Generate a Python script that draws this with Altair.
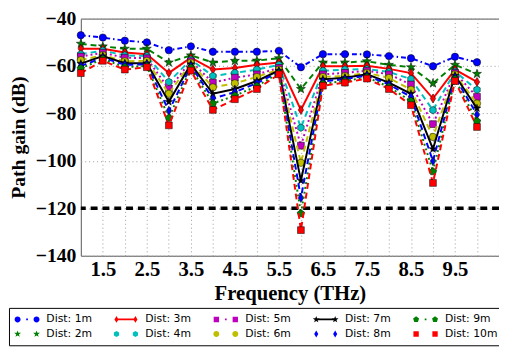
import math
import altair as alt
import pandas as pd

# ---------------- data ----------------
freqs = [1.0, 1.5, 2.0, 2.5, 3.0, 3.5, 4.0, 4.5, 5.0, 5.5, 6.0, 6.5, 7.0, 7.5, 8.0, 8.5, 9.0, 9.5, 10.0]

gain_1m = [-47, -48, -49.3, -50, -53.3, -51.7, -54, -54, -54, -53.6, -60.5, -55, -55, -55.1, -55.8, -56.7, -60.1, -56.1, -58.4]
gain_2m = [-50.6, -51.7, -52.7, -52.7, -58.5, -55.5, -58.5, -57.8, -57.7, -56.7, -69.7, -58.5, -58.5, -58, -59.5, -60.5, -67.3, -59.5, -63.3]
gain_3m = [-52.7, -52.7, -54.3, -55, -62.9, -56.5, -61.5, -60.8, -59.5, -58.5, -78.5, -60.1, -60.1, -59.9, -61.2, -63, -73.7, -61.5, -66.7]
gain_4m = [-55, -53.5, -55.5, -55.8, -66.7, -57.3, -64.2, -62.9, -61.5, -59.5, -86, -62, -61.5, -61.3, -62.5, -65.5, -78.6, -62.3, -70]
gain_5m = [-56, -54.4, -56.5, -56.7, -69.7, -58, -67, -64.9, -63.5, -60.8, -93.6, -63.5, -62.9, -62, -63.5, -67.8, -84.5, -62.9, -73]
gain_6m = [-57.5, -55.4, -58, -57.8, -71.7, -58.6, -69, -67.3, -64.6, -61.5, -100.8, -64.6, -64.2, -62.9, -65, -70, -89.9, -63.5, -75.8]
gain_7m = [-59, -55.8, -58.8, -58.8, -75.1, -59.2, -71.7, -69.7, -66.3, -61.9, -108.3, -65.6, -64.9, -63.5, -67, -71.7, -95, -64, -77.8]
gain_8m = [-60, -56.5, -59.5, -59.3, -78.9, -60, -73.7, -71, -67.2, -62.5, -115.6, -66.5, -65.5, -64, -67.8, -73, -100.1, -64.7, -80.5]
gain_9m = [-61, -57, -60.5, -60, -81.9, -60.8, -75.8, -72.5, -68.5, -63, -122.2, -67.5, -66.3, -64.7, -68.8, -74.8, -104.5, -65.5, -83.3]
gain_10m = [-63, -57.8, -61.5, -60.5, -85, -61.9, -78.5, -74, -69.7, -63.5, -129.2, -68.3, -67, -65.3, -69.7, -76.5, -109.3, -66.3, -85.7]

series_names = ["Dist: 1m", "Dist: 2m", "Dist: 3m", "Dist: 4m", "Dist: 5m",
                "Dist: 6m", "Dist: 7m", "Dist: 8m", "Dist: 9m", "Dist: 10m"]
series_values = [gain_1m, gain_2m, gain_3m, gain_4m, gain_5m,
                 gain_6m, gain_7m, gain_8m, gain_9m, gain_10m]

threshold = [-120]

x_grid = [1.5, 2.0, 2.5, 3.0, 3.5, 4.0, 4.5, 5.0, 5.5, 6.0, 6.5, 7.0, 7.5, 8.0, 8.5, 9.0, 9.5, 10.0]
y_ticks = [-140, -120, -100, -80, -60, -40]

# ---------------- marker shape paths ----------------
def poly_path(n, r=1.0, cx=0.0, cy=0.0, inner=None, rot=-90.0):
    pts = []
    if inner is None:
        for k in range(n):
            a = math.radians(rot + 360.0 * k / n)
            pts.append((cx + r * math.cos(a), cy + r * math.sin(a)))
    else:
        for k in range(2 * n):
            rr = r if k % 2 == 0 else r * inner
            a = math.radians(rot + 180.0 * k / n)
            pts.append((cx + rr * math.cos(a), cy + rr * math.sin(a)))
    return "M" + "L".join(f"{x:.3f},{y:.3f}" for x, y in pts) + "Z"


def circle_path(r=1.0, cx=0.0, cy=0.0):
    return (f"M{cx - r:.3f},{cy:.3f}A{r:.3f},{r:.3f} 0 1,0 {cx + r:.3f},{cy:.3f}"
            f"A{r:.3f},{r:.3f} 0 1,0 {cx - r:.3f},{cy:.3f}Z")


def square_path(r=1.0, cx=0.0, cy=0.0):
    return (f"M{cx - r:.3f},{cy - r:.3f}L{cx + r:.3f},{cy - r:.3f}"
            f"L{cx + r:.3f},{cy + r:.3f}L{cx - r:.3f},{cy + r:.3f}Z")


def diamond_path(r=1.0, cx=0.0, cy=0.0):
    return (f"M{cx:.3f},{cy - r:.3f}L{cx + 0.6 * r:.3f},{cy:.3f}"
            f"L{cx:.3f},{cy + r:.3f}L{cx - 0.6 * r:.3f},{cy:.3f}Z")


def marker_path(kind, r, cx, cy=0.0):
    if kind == "circle":
        return circle_path(r, cx, cy)
    if kind == "square":
        return square_path(r * 0.9, cx, cy)
    if kind == "star":
        return poly_path(5, r * 1.2, cx, cy, inner=0.4)
    if kind == "diamond":
        return diamond_path(r * 1.15, cx, cy)
    if kind == "hexagon":
        return poly_path(6, r, cx, cy)
    if kind == "pentagon":
        return poly_path(5, r * 1.05, cx, cy)
    return circle_path(r, cx, cy)


def point_shape(kind):
    if kind in ("circle", "square"):
        return kind
    return marker_path(kind, 1.0, 0.0)


# styles: colour, marker, dash, marker size, legend connector
styles = [
    ("#0000ff", "circle", [5, 3, 1.5, 3], 56, "dot"),
    ("#008000", "star", [6, 4], 64, "none"),
    ("#ff0000", "diamond", None, 64, "solid"),
    ("#00bfbf", "hexagon", [6, 4], 58, "none"),
    ("#bf00bf", "square", [2, 3], 48, "dot"),
    ("#bfbf00", "circle", [6, 4], 56, "none"),
    ("#000000", "star", None, 48, "solid"),
    ("#0000ff", "diamond", [6, 4], 64, "none"),
    ("#008000", "pentagon", [2, 3], 58, "dot"),
    ("#ff0000", "square", [6, 4], 48, "none"),
]


def legend_symbol(kind, connector):
    c1, c2, r = -0.5, 3.0, 0.55
    parts = []
    if connector == "solid":
        parts.append(f"M{c1:.3f},-0.16L{c2:.3f},-0.16L{c2:.3f},0.16L{c1:.3f},0.16Z")
    elif connector == "dot":
        m = (c1 + c2) / 2
        parts.append(f"M{m - 0.16:.3f},-0.16L{m + 0.16:.3f},-0.16L{m + 0.16:.3f},0.16L{m - 0.16:.3f},0.16Z")
    parts.append(marker_path(kind, r, c1))
    parts.append(marker_path(kind, r, c2))
    return "".join(parts)


# ---------------- table ----------------
rows = []
for name, vals in zip(series_names, series_values):
    for f, v in zip(freqs, vals):
        rows.append({"freq": f, "gain": v, "series": name})
df = pd.DataFrame(rows)

SERIF = "Liberation Serif"
PLOT_H = 241

x_enc = alt.X(
    "freq:Q",
    scale=alt.Scale(domain=[1, 10.5], nice=False, zero=False),
    axis=alt.Axis(
        values=x_grid,
        labelExpr="datum.value % 1 == 0.5 ? format(datum.value, '.1f') : ''",
        grid=True, gridDash=[1, 3], gridColor="#999999", gridWidth=1,
        ticks=False, domain=False,
        labelFont=SERIF, labelFontWeight="bold", labelFontSize=21, labelColor="black",
        labelPadding=3, labelFlush=False,
        title="Frequency (THz)", titleFont=SERIF, titleFontWeight="bold",
        titleFontSize=21, titleColor="black", titleY=38, titleBaseline="middle",
    ),
)
y_enc = alt.Y(
    "gain:Q",
    scale=alt.Scale(domain=[-140, -40], nice=False, zero=False),
    axis=alt.Axis(
        values=y_ticks, format="d",
        grid=True, gridDash=[1, 3], gridColor="#999999", gridWidth=1,
        ticks=False, domain=False,
        labelFont=SERIF, labelFontWeight="bold", labelFontSize=20, labelColor="black",
        labelPadding=5, labelFlush=False,
        title="Path gain (dB)", titleFont=SERIF, titleFontWeight="bold",
        titleFontSize=20, titleColor="black", titleX=-63, titleY=PLOT_H / 2,
        titleAngle=-90, titleBaseline="middle", titleAlign="center",
    ),
)

layers = []

thr = alt.Chart(pd.DataFrame({"gain": threshold})).mark_rule(
    color="black", strokeWidth=3.5, strokeDash=[7, 5]
).encode(y=alt.Y("gain:Q", scale=alt.Scale(domain=[-140, -40], nice=False, zero=False)))
layers.append(thr)

for name, (color, kind, dash, size, conn) in zip(series_names, styles):
    base = alt.Chart(df).transform_filter(alt.datum.series == name)
    line_kw = dict(color=color, strokeWidth=2)
    if dash:
        line_kw["strokeDash"] = dash
    layers.append(base.mark_line(**line_kw).encode(x=x_enc, y=y_enc))
    layers.append(
        base.mark_point(filled=True, fill=color, stroke="black", strokeWidth=0.5,
                        opacity=1, size=size, shape=point_shape(kind))
        .encode(x=x_enc, y=y_enc)
    )

# legend: Vega fills the 5 columns top-to-bottom, like the reference
leg_domain = list(series_names)
leg_colors = [s[0] for s in styles]
leg_shapes = [legend_symbol(s[1], s[4]) for s in styles]

legend_cfg = dict(
    title=None, orient="none", legendX=-73, legendY=294, columns=5,
    gridAlign="each", columnPadding=21.5, rowPadding=3, padding=6,
    strokeColor="black", fillColor="white", cornerRadius=0,
    labelFont="DejaVu Sans", labelFontSize=11, labelColor="black",
    labelOffset=21, labelLimit=200, symbolSize=121, symbolOpacity=1,
    symbolStrokeWidth=0,
)

leg_layer = alt.Chart(df).transform_filter("false").mark_point(filled=True, opacity=1).encode(
    x=x_enc, y=y_enc,
    color=alt.Color("series:N", scale=alt.Scale(domain=leg_domain, range=leg_colors),
                    legend=alt.Legend(**legend_cfg)),
    shape=alt.Shape("series:N", scale=alt.Scale(domain=leg_domain, range=leg_shapes),
                    legend=alt.Legend(**legend_cfg)),
)
layers.append(leg_layer)

chart = alt.layer(*layers).properties(
    width=425, height=PLOT_H,
    padding={"left": 74, "top": 8, "right": 0, "bottom": 92},
    autosize=alt.AutoSizeParams(type="none"),
    background="white",
).configure_view(stroke="#555555", strokeWidth=1)

chart.save("out.html", embed_options={"renderer": "svg", "actions": False})
